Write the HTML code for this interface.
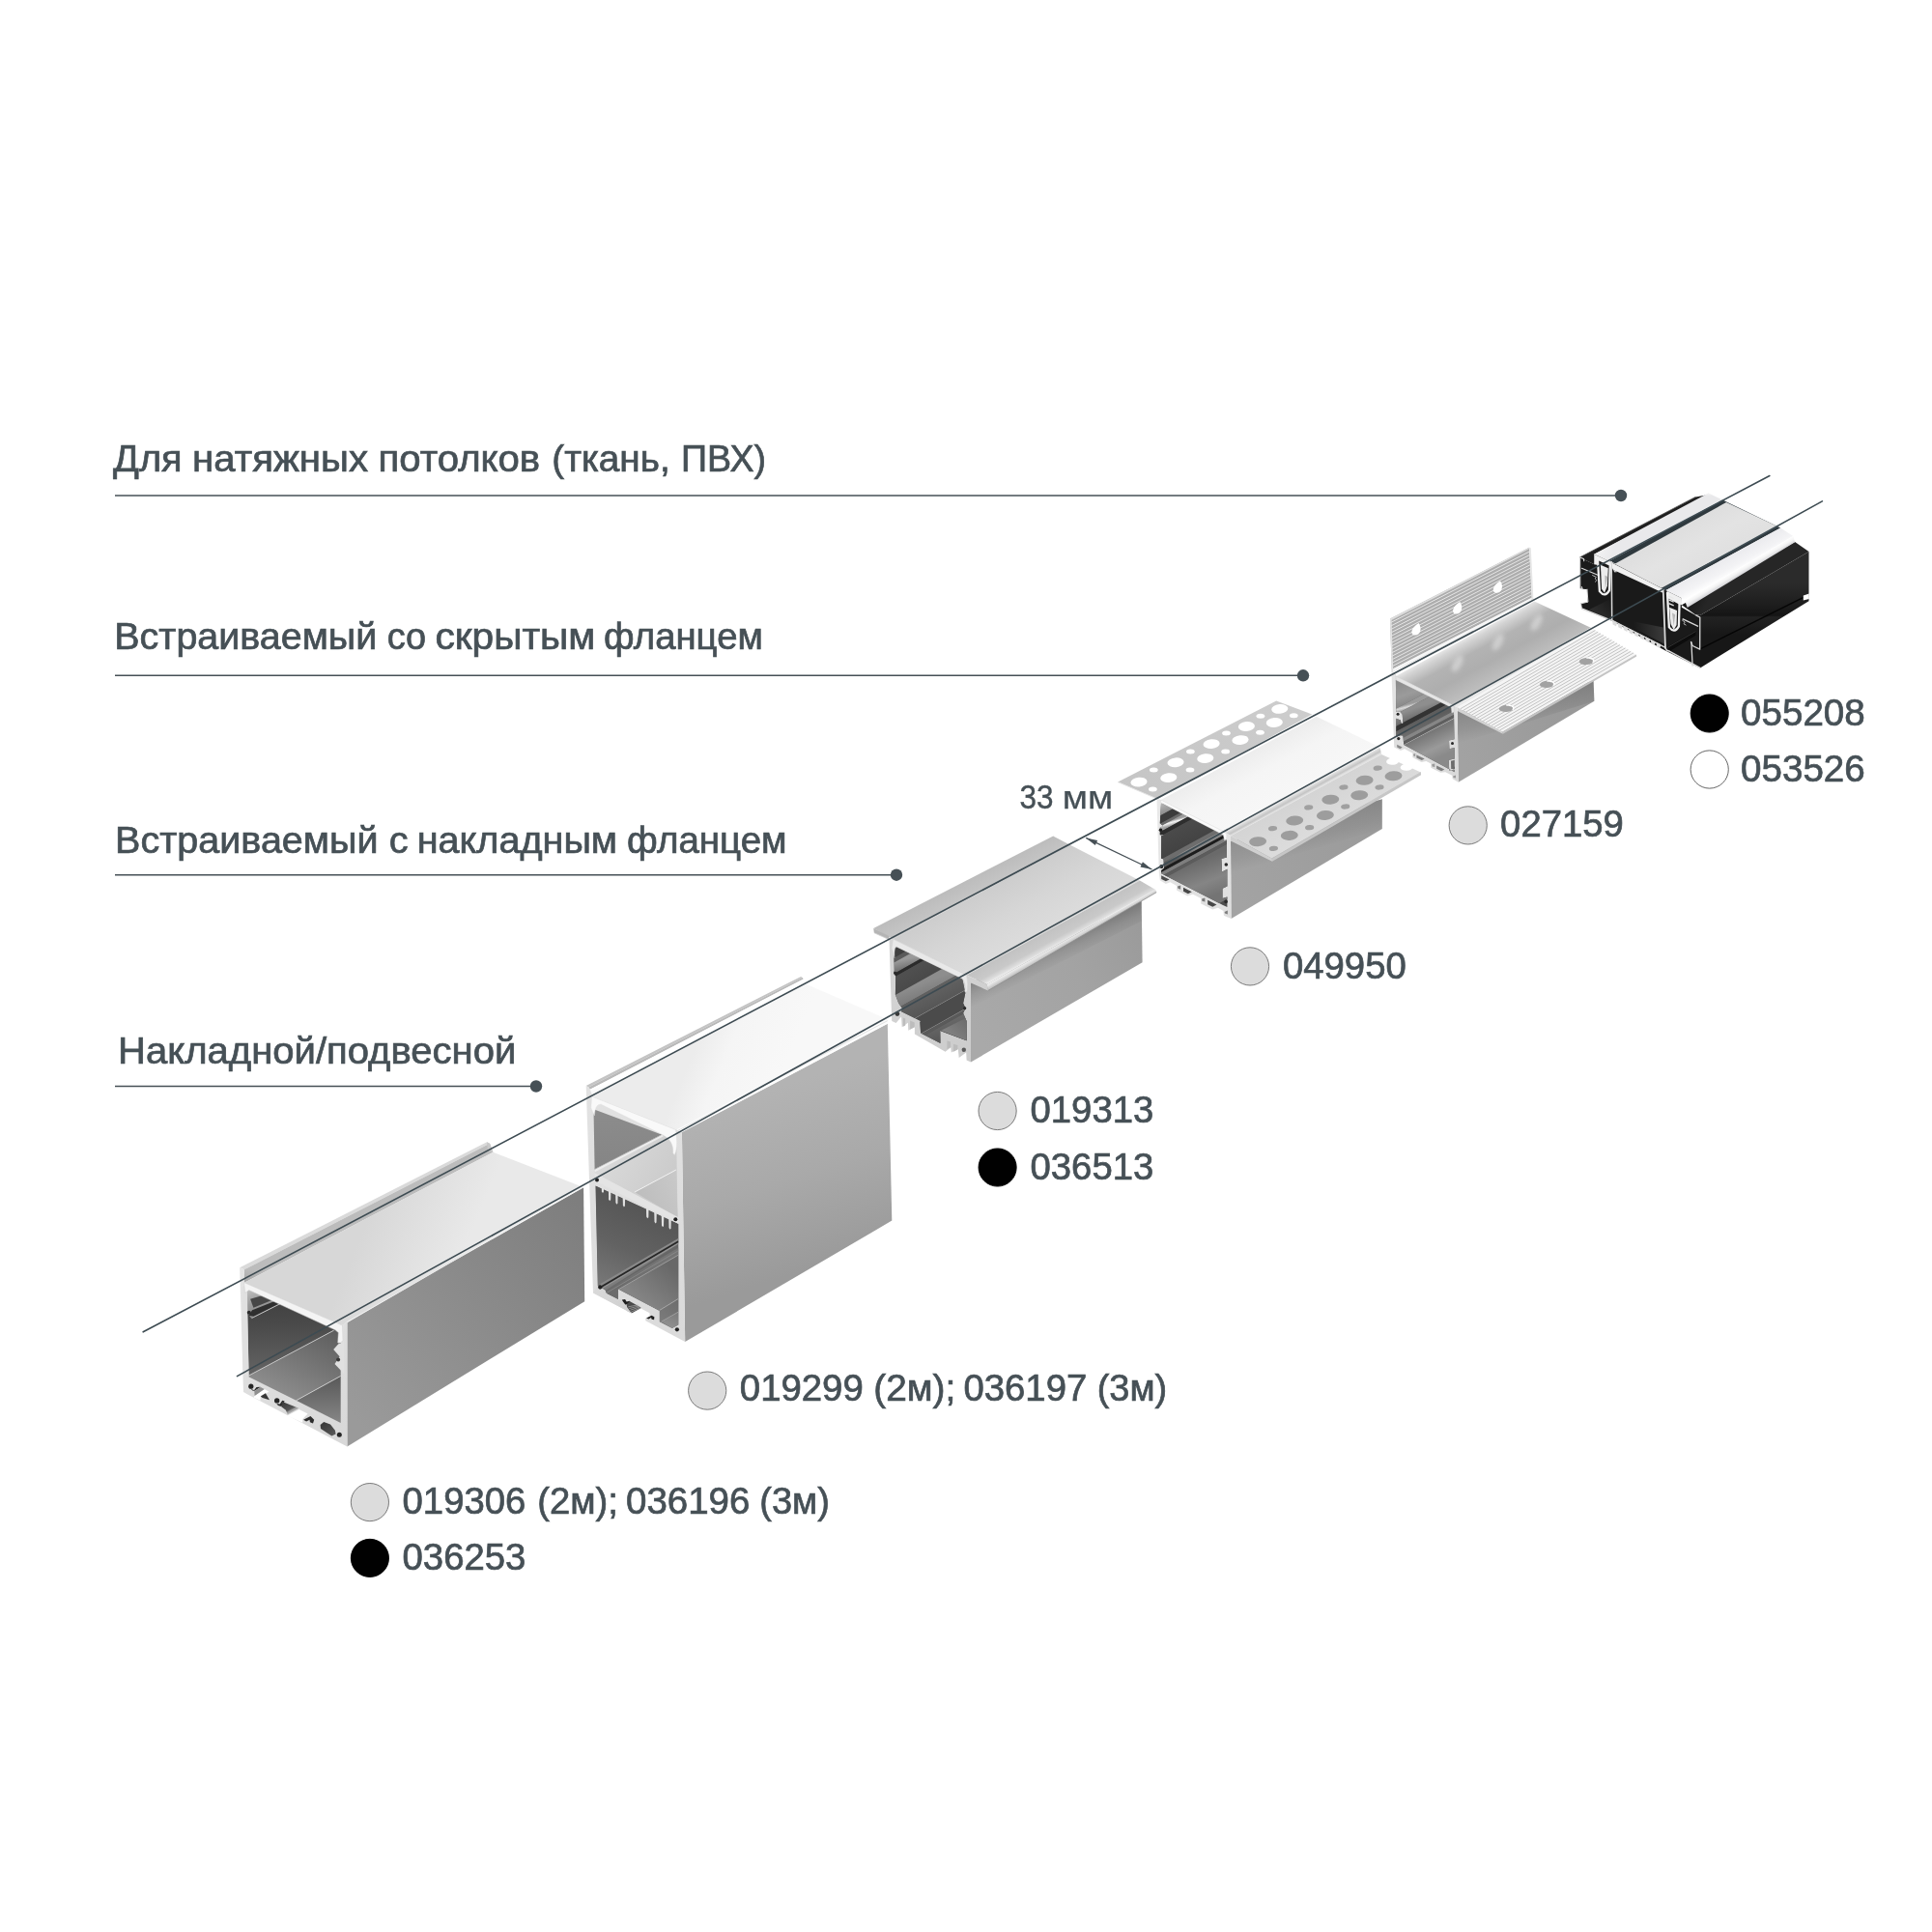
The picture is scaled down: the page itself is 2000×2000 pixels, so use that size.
<!DOCTYPE html>
<html><head><meta charset="utf-8"><title>Profiles</title>
<style>
html,body{margin:0;padding:0;background:#fff;}
body{width:2000px;height:2000px;overflow:hidden;font-family:"Liberation Sans",sans-serif;}
svg{display:block;font-family:"Liberation Sans",sans-serif;opacity:0.9999;will-change:transform;}
</style></head><body>
<svg width="2000" height="2000" viewBox="0 0 2000 2000">
<defs>
<filter id="blur2" x="-50%" y="-50%" width="200%" height="200%"><feGaussianBlur stdDeviation="2.2"/></filter>
<filter id="blur1" x="-50%" y="-50%" width="200%" height="200%"><feGaussianBlur stdDeviation="1"/></filter>
<linearGradient id="g1" gradientUnits="userSpaceOnUse" x1="1816.3" y1="604.0" x2="1816.3" y2="656.8"><stop offset="0" stop-color="#2b2b2b"/><stop offset="0.4" stop-color="#1e1e1e"/><stop offset="0.63" stop-color="#151515"/><stop offset="0.66" stop-color="#222222"/><stop offset="1" stop-color="#171717"/></linearGradient>
<linearGradient id="g2" gradientUnits="userSpaceOnUse" x1="1740.9" y1="626.2" x2="1760.0" y2="637.0"><stop offset="0" stop-color="#151515"/><stop offset="1" stop-color="#262626"/></linearGradient>
<linearGradient id="g3" gradientUnits="userSpaceOnUse" x1="1649.7" y1="574.1" x2="1666.5" y2="580.5"><stop offset="0" stop-color="#f4f4f4"/><stop offset="1" stop-color="#e9e9eb"/></linearGradient>
<linearGradient id="g4" gradientUnits="userSpaceOnUse" x1="1670.2" y1="584.5" x2="1692.0" y2="624.1"><stop offset="0" stop-color="#dedede"/><stop offset="0.5" stop-color="#e3e3e3"/><stop offset="1" stop-color="#e0e0e0"/></linearGradient>
<linearGradient id="g5" gradientUnits="userSpaceOnUse" x1="1724.2" y1="611.2" x2="1733.0" y2="627.5"><stop offset="0" stop-color="#ebebee"/><stop offset="0.6" stop-color="#f3f3f5"/><stop offset="1" stop-color="#ffffff"/></linearGradient>
<linearGradient id="g6" gradientUnits="userSpaceOnUse" x1="1744.1" y1="621.5" x2="1748.1" y2="628.2"><stop offset="0" stop-color="#ffffff"/><stop offset="0.45" stop-color="#f4f4f4"/><stop offset="1" stop-color="#d0d0d4"/></linearGradient>
<linearGradient id="g7" gradientUnits="userSpaceOnUse" x1="1668.1" y1="619.6" x2="1649.8" y2="634.5"><stop offset="0" stop-color="#1a1a1a"/><stop offset="1" stop-color="#2e2e2e"/></linearGradient>
<linearGradient id="g8" gradientUnits="userSpaceOnUse" x1="1721.9" y1="649.4" x2="1691.2" y2="651.1"><stop offset="0" stop-color="#3a3a3a"/><stop offset="1" stop-color="#1a1a1a"/></linearGradient>
<linearGradient id="g9" gradientUnits="userSpaceOnUse" x1="1509.2" y1="772.8" x2="1650.0" y2="715.3"><stop offset="0" stop-color="#a2a2a2"/><stop offset="1" stop-color="#979797"/></linearGradient>
<linearGradient id="g10" gradientUnits="userSpaceOnUse" x1="1508.7" y1="736.0" x2="1515.8" y2="768.4"><stop offset="0" stop-color="#000000" stop-opacity="0.16"/><stop offset="0.6" stop-color="#000000" stop-opacity="0.08"/><stop offset="1" stop-color="#000000" stop-opacity="0"/></linearGradient>
<linearGradient id="g11" gradientUnits="userSpaceOnUse" x1="1444.9" y1="699.9" x2="1471.3" y2="748.7"><stop offset="0" stop-color="#e6e6e6"/><stop offset="0.08" stop-color="#d4d4d4"/><stop offset="0.3" stop-color="#b3b3b3"/><stop offset="0.6" stop-color="#aeaeae"/><stop offset="1" stop-color="#c0c0c0"/></linearGradient>
<linearGradient id="g12" gradientUnits="userSpaceOnUse" x1="1440.6" y1="699.2" x2="1509.7" y2="809.7"><stop offset="0" stop-color="#e4e4e4"/><stop offset="1" stop-color="#d9d9d9"/></linearGradient>
<clipPath id="c13"><polygon points="1444.9,704.0 1502.0,732.0 1505.0,737.1 1505.5,765.3 1500.0,766.5 1500.4,775.2 1505.8,774.0 1505.8,785.6 1499.7,786.8 1500.2,797.6 1505.8,796.8 1505.8,799.2 1453.2,771.1 1452.4,761.6 1449.7,761.2 1445.3,762.8 1445.3,743.8 1449.9,745.4 1450.5,748.7 1452.4,749.1 1451.7,739.6 1449.5,737.1 1445.3,737.1"/></clipPath>
<linearGradient id="g14" gradientUnits="userSpaceOnUse" x1="1446.6" y1="706.5" x2="1454.8" y2="729.7"><stop offset="0" stop-color="#8c8c8c"/><stop offset="0.6" stop-color="#9b9b9b"/><stop offset="1" stop-color="#8a8a8a"/></linearGradient>
<linearGradient id="g15" gradientUnits="userSpaceOnUse" x1="1454.8" y1="729.7" x2="1456.1" y2="734.7"><stop offset="0" stop-color="#9a9a9a"/><stop offset="0.5" stop-color="#dadada"/><stop offset="1" stop-color="#a4a4a4"/></linearGradient>
<linearGradient id="g16" gradientUnits="userSpaceOnUse" x1="1454.8" y1="736.3" x2="1458.2" y2="746.2"><stop offset="0" stop-color="#8e8e8e"/><stop offset="1" stop-color="#6c6c6c"/></linearGradient>
<linearGradient id="g17" gradientUnits="userSpaceOnUse" x1="1463.1" y1="747.9" x2="1466.4" y2="757.9"><stop offset="0" stop-color="#5d5d5d"/><stop offset="1" stop-color="#6c6c6c"/></linearGradient>
<linearGradient id="g18" gradientUnits="userSpaceOnUse" x1="1471.4" y1="762.8" x2="1483.0" y2="787.7"><stop offset="0" stop-color="#787878"/><stop offset="0.6" stop-color="#9a9a9a"/><stop offset="1" stop-color="#8a8a8a"/></linearGradient>
<linearGradient id="g19" gradientUnits="userSpaceOnUse" x1="1274.2" y1="910.8" x2="1430.8" y2="842.6"><stop offset="0" stop-color="#a3a3a3"/><stop offset="1" stop-color="#9a9a9a"/></linearGradient>
<linearGradient id="g20" gradientUnits="userSpaceOnUse" x1="1274.0" y1="870.4" x2="1282.7" y2="902.0"><stop offset="0" stop-color="#000000" stop-opacity="0.12"/><stop offset="0.6" stop-color="#000000" stop-opacity="0.06"/><stop offset="1" stop-color="#000000" stop-opacity="0"/></linearGradient>
<linearGradient id="g21" gradientUnits="userSpaceOnUse" x1="1157.2" y1="809.6" x2="1358.3" y2="739.5"><stop offset="0" stop-color="#c5c5c5"/><stop offset="1" stop-color="#cdcdcd"/></linearGradient>
<linearGradient id="g22" gradientUnits="userSpaceOnUse" x1="1201.7" y1="828.0" x2="1230.0" y2="880.8"><stop offset="0" stop-color="#ededed"/><stop offset="0.4" stop-color="#f5f5f5"/><stop offset="1" stop-color="#f7f7f7"/></linearGradient>
<linearGradient id="g23" gradientUnits="userSpaceOnUse" x1="1266.9" y1="861.0" x2="1270.3" y2="867.2"><stop offset="0" stop-color="#f4f4f4"/><stop offset="0.35" stop-color="#d9d9d9"/><stop offset="0.7" stop-color="#c4c4c4"/><stop offset="1" stop-color="#e2e2e2"/></linearGradient>
<linearGradient id="g24" gradientUnits="userSpaceOnUse" x1="1274.0" y1="865.2" x2="1293.5" y2="901.3"><stop offset="0" stop-color="#d4d4d4"/><stop offset="1" stop-color="#dcdcdc"/></linearGradient>
<linearGradient id="g25" gradientUnits="userSpaceOnUse" x1="1197.5" y1="827.0" x2="1274.5" y2="951.1"><stop offset="0" stop-color="#e9e9e9"/><stop offset="1" stop-color="#dedede"/></linearGradient>
<clipPath id="c26"><polygon points="1202.0,831.2 1266.5,864.3 1270.0,870.8 1270.0,887.6 1264.4,889.0 1265.1,902.5 1270.4,899.7 1270.4,917.4 1265.5,919.7 1265.5,930.0 1270.4,928.6 1270.4,939.0 1266.0,937.1 1202.2,904.2 1202.2,901.1 1205.0,898.8 1204.5,889.4 1202.0,888.5 1202.2,865.2 1205.9,864.3 1205.5,871.7 1204.5,864.3 1200.8,864.3 1200.8,856.8 1204.0,855.0 1200.8,852.2"/></clipPath>
<linearGradient id="g27" gradientUnits="userSpaceOnUse" x1="1205.9" y1="830.8" x2="1209.6" y2="841.9"><stop offset="0" stop-color="#b4b4b4"/><stop offset="1" stop-color="#8a8a8a"/></linearGradient>
<linearGradient id="g28" gradientUnits="userSpaceOnUse" x1="1215.2" y1="848.5" x2="1216.6" y2="853.6"><stop offset="0" stop-color="#9c9c9c"/><stop offset="0.4" stop-color="#f5f5f5"/><stop offset="1" stop-color="#a0a0a0"/></linearGradient>
<linearGradient id="g29" gradientUnits="userSpaceOnUse" x1="1215.2" y1="859.6" x2="1224.5" y2="880.1"><stop offset="0" stop-color="#4a4a4a"/><stop offset="1" stop-color="#424242"/></linearGradient>
<linearGradient id="g30" gradientUnits="userSpaceOnUse" x1="1224.5" y1="882.0" x2="1225.9" y2="887.6"><stop offset="0" stop-color="#8a8a8a"/><stop offset="1" stop-color="#5a5a5a"/></linearGradient>
<linearGradient id="g31" gradientUnits="userSpaceOnUse" x1="1233.8" y1="893.2" x2="1247.8" y2="930.4"><stop offset="0" stop-color="#6a6a6a"/><stop offset="0.6" stop-color="#858585"/><stop offset="1" stop-color="#747474"/></linearGradient>
<linearGradient id="g32" gradientUnits="userSpaceOnUse" x1="1005.0" y1="1058.4" x2="1182.1" y2="964.5"><stop offset="0" stop-color="#a9a9a9"/><stop offset="0.6" stop-color="#a3a3a3"/><stop offset="1" stop-color="#9b9b9b"/></linearGradient>
<linearGradient id="g33" gradientUnits="userSpaceOnUse" x1="1005.0" y1="1017.4" x2="1015.1" y2="1038.6"><stop offset="0" stop-color="#000000" stop-opacity="0.22"/><stop offset="0.5" stop-color="#000000" stop-opacity="0.09"/><stop offset="1" stop-color="#000000" stop-opacity="0"/></linearGradient>
<linearGradient id="g34" gradientUnits="userSpaceOnUse" x1="904.2" y1="961.1" x2="913.0" y2="978.1"><stop offset="0" stop-color="#bcbcbc"/><stop offset="1" stop-color="#c6c6c6"/></linearGradient>
<linearGradient id="g35" gradientUnits="userSpaceOnUse" x1="924.5" y1="972.1" x2="956.9" y2="1032.9"><stop offset="0" stop-color="#cdcdcd"/><stop offset="0.5" stop-color="#d6d6d6"/><stop offset="1" stop-color="#dcdcdc"/></linearGradient>
<linearGradient id="g36" gradientUnits="userSpaceOnUse" x1="1000.6" y1="1009.5" x2="1009.5" y2="1025.7"><stop offset="0" stop-color="#c2c2c2"/><stop offset="0.6" stop-color="#c9c9c9"/><stop offset="0.85" stop-color="#dddddd"/><stop offset="1" stop-color="#f2f2f2"/></linearGradient>
<linearGradient id="g37" gradientUnits="userSpaceOnUse" x1="1021.7" y1="1019.0" x2="1024.8" y2="1024.4"><stop offset="0" stop-color="#f4f4f4"/><stop offset="0.5" stop-color="#d8d8d8"/><stop offset="1" stop-color="#b8b8b8"/></linearGradient>
<linearGradient id="g38" gradientUnits="userSpaceOnUse" x1="920.5" y1="972.6" x2="1005.0" y2="1099.5"><stop offset="0" stop-color="#d6d6d6"/><stop offset="1" stop-color="#cccccc"/></linearGradient>
<clipPath id="c39"><polygon points="926.0,979.2 996.2,1013.2 999.3,1028.0 997.1,1038.6 999.5,1043.7 997.1,1048.7 1000.6,1057.0 1000.6,1077.3 972.4,1066.7 973.3,1067.6 973.5,1080.1 953.1,1069.5 952.4,1057.9 953.1,1057.0 932.8,1046.9 934.6,1044.7 930.2,1038.6 926.9,1029.8 927.2,1010.4 925.1,1006.9 925.8,1005.1 925.5,991.0"/></clipPath>
<linearGradient id="g40" gradientUnits="userSpaceOnUse" x1="930.2" y1="994.6" x2="932.8" y2="1005.1"><stop offset="0" stop-color="#9a9a9a"/><stop offset="1" stop-color="#6e6e6e"/></linearGradient>
<linearGradient id="g41" gradientUnits="userSpaceOnUse" x1="930.2" y1="1013.0" x2="940.8" y2="1029.8"><stop offset="0" stop-color="#4f4f4f"/><stop offset="1" stop-color="#474747"/></linearGradient>
<linearGradient id="g42" gradientUnits="userSpaceOnUse" x1="939.0" y1="1023.6" x2="944.3" y2="1037.7"><stop offset="0" stop-color="#8d8d8d"/><stop offset="1" stop-color="#7a7a7a"/></linearGradient>
<linearGradient id="g43" gradientUnits="userSpaceOnUse" x1="947.8" y1="1035.0" x2="956.6" y2="1053.5"><stop offset="0" stop-color="#606060"/><stop offset="1" stop-color="#535353"/></linearGradient>
<linearGradient id="g44" gradientUnits="userSpaceOnUse" x1="965.4" y1="1058.8" x2="970.7" y2="1077.3"><stop offset="0" stop-color="#6a6a6a"/><stop offset="1" stop-color="#585858"/></linearGradient>
<linearGradient id="g45" gradientUnits="userSpaceOnUse" x1="1000.6" y1="1053.5" x2="983.0" y2="1072.0"><stop offset="0" stop-color="#6a6a6a"/><stop offset="1" stop-color="#828282"/></linearGradient>
<linearGradient id="g46" gradientUnits="userSpaceOnUse" x1="780.4" y1="1132.8" x2="837.7" y2="1313.8"><stop offset="0" stop-color="#b3b3b3"/><stop offset="0.5" stop-color="#a9a9a9"/><stop offset="1" stop-color="#9a9a9a"/></linearGradient>
<linearGradient id="g47" gradientUnits="userSpaceOnUse" x1="610.9" y1="1127.7" x2="613.5" y2="1135.0"><stop offset="0" stop-color="#ffffff"/><stop offset="0.65" stop-color="#f6f6f6"/><stop offset="1" stop-color="#d8d8d8"/></linearGradient>
<linearGradient id="g48" gradientUnits="userSpaceOnUse" x1="723.1" y1="1076.5" x2="809.7" y2="1112.3"><stop offset="0" stop-color="#ececec"/><stop offset="0.35" stop-color="#f5f5f5"/><stop offset="1" stop-color="#f8f8f8"/></linearGradient>
<linearGradient id="g49" gradientUnits="userSpaceOnUse" x1="606.7" y1="1124.1" x2="709.2" y2="1389.0"><stop offset="0" stop-color="#e2e2e2"/><stop offset="1" stop-color="#dadada"/></linearGradient>
<linearGradient id="g50" gradientUnits="userSpaceOnUse" x1="614.5" y1="1148.3" x2="615.6" y2="1210.3"><stop offset="0" stop-color="#8c8c8c"/><stop offset="1" stop-color="#858585"/></linearGradient>
<linearGradient id="g51" gradientUnits="userSpaceOnUse" x1="615.6" y1="1210.3" x2="701.5" y2="1260.0"><stop offset="0" stop-color="#dadada"/><stop offset="0.5" stop-color="#d0d0d0"/><stop offset="1" stop-color="#c6c6c6"/></linearGradient>
<linearGradient id="g52" gradientUnits="userSpaceOnUse" x1="699.9" y1="1211.0" x2="656.9" y2="1234.1"><stop offset="0" stop-color="#c9c9c9"/><stop offset="1" stop-color="#bdbdbd"/></linearGradient>
<clipPath id="c53"><polygon points="616.5,1227.6 702.3,1267.1 702.3,1371.4 695.8,1375.0 682.8,1368.3 682.8,1356.4 681.8,1356.4 640.4,1334.7 639.9,1334.2 639.9,1345.2 627.7,1339.1 626.4,1335.7 618.8,1331.1"/></clipPath>
<linearGradient id="g54" gradientUnits="userSpaceOnUse" x1="659.4" y1="1247.4" x2="622.3" y2="1331.1"><stop offset="0" stop-color="#565656"/><stop offset="0.5" stop-color="#626262"/><stop offset="1" stop-color="#787878"/></linearGradient>
<linearGradient id="g55" gradientUnits="userSpaceOnUse" x1="662.1" y1="1305.2" x2="666.2" y2="1312.4"><stop offset="0" stop-color="#8c8c8c"/><stop offset="1" stop-color="#7a7a7a"/></linearGradient>
<linearGradient id="g56" gradientUnits="userSpaceOnUse" x1="627.7" y1="1339.1" x2="682.8" y2="1306.2"><stop offset="0" stop-color="#6a6a6a"/><stop offset="1" stop-color="#747474"/></linearGradient>
<linearGradient id="g57" gradientUnits="userSpaceOnUse" x1="693.2" y1="1310.3" x2="662.1" y2="1346.6"><stop offset="0" stop-color="#686868"/><stop offset="1" stop-color="#858585"/></linearGradient>
<linearGradient id="g58" gradientUnits="userSpaceOnUse" x1="702.5" y1="1344.3" x2="682.8" y2="1368.3"><stop offset="0" stop-color="#6c6c6c"/><stop offset="1" stop-color="#7c7c7c"/></linearGradient>
<linearGradient id="g59" gradientUnits="userSpaceOnUse" x1="702.5" y1="1358.2" x2="695.8" y2="1375.0"><stop offset="0" stop-color="#7a7a7a"/><stop offset="1" stop-color="#909090"/></linearGradient>
<linearGradient id="g60" gradientUnits="userSpaceOnUse" x1="614.0" y1="1338.5" x2="653.8" y2="1359.6"><stop offset="0" stop-color="#d9d9d9"/><stop offset="1" stop-color="#cfcfcf"/></linearGradient>
<linearGradient id="g61" gradientUnits="userSpaceOnUse" x1="359.4" y1="1458.6" x2="604.3" y2="1252.8"><stop offset="0" stop-color="#9a9a9a"/><stop offset="0.5" stop-color="#8c8c8c"/><stop offset="1" stop-color="#7e7e7e"/></linearGradient>
<linearGradient id="g62" gradientUnits="userSpaceOnUse" x1="252.7" y1="1314.3" x2="252.6" y2="1327.9"><stop offset="0" stop-color="#bcbcbc"/><stop offset="1" stop-color="#a6a6a6"/></linearGradient>
<linearGradient id="g63" gradientUnits="userSpaceOnUse" x1="381.5" y1="1260.3" x2="478.5" y2="1300.3"><stop offset="0" stop-color="#d7d7d7"/><stop offset="0.5" stop-color="#e0e0e0"/><stop offset="1" stop-color="#e9e9e9"/></linearGradient>
<linearGradient id="g64" gradientUnits="userSpaceOnUse" x1="248.1" y1="1312.3" x2="359.4" y2="1497.4"><stop offset="0" stop-color="#e4e4e4"/><stop offset="1" stop-color="#d8d8d8"/></linearGradient>
<linearGradient id="g65" gradientUnits="userSpaceOnUse" x1="255.4" y1="1330.7" x2="257.7" y2="1423.9"><stop offset="0" stop-color="#3b3b3b"/><stop offset="0.45" stop-color="#4a4a4a"/><stop offset="1" stop-color="#646464"/></linearGradient>
<linearGradient id="g66" gradientUnits="userSpaceOnUse" x1="345.4" y1="1377.3" x2="306.6" y2="1449.8"><stop offset="0" stop-color="#5e5e5e"/><stop offset="1" stop-color="#8b8b8b"/></linearGradient>
<linearGradient id="g67" gradientUnits="userSpaceOnUse" x1="352.7" y1="1424.4" x2="352.7" y2="1473.1"><stop offset="0" stop-color="#585858"/><stop offset="1" stop-color="#868686"/></linearGradient>
<linearGradient id="g68" gradientUnits="userSpaceOnUse" x1="255.9" y1="1334.3" x2="268.8" y2="1362.8"><stop offset="0" stop-color="#c2c2c2"/><stop offset="0.5" stop-color="#9c9c9c"/><stop offset="1" stop-color="#8a8a8a"/></linearGradient>
<linearGradient id="g69" gradientUnits="userSpaceOnUse" x1="294.7" y1="1452.2" x2="300.9" y2="1463.4"><stop offset="0" stop-color="#3d3d3d"/><stop offset="0.65" stop-color="#555555"/><stop offset="0.8" stop-color="#9d9d9d"/><stop offset="1" stop-color="#b5b5b5"/></linearGradient>
<linearGradient id="g70" gradientUnits="userSpaceOnUse" x1="335.1" y1="1472.1" x2="344.4" y2="1486.4"><stop offset="0" stop-color="#383838"/><stop offset="1" stop-color="#585858"/></linearGradient>
</defs>
<rect width="2000" height="2000" fill="#ffffff"/>
<polygon points="1760.0,637.0 1872.5,571.0 1872.5,622.3 1760.0,691.4" fill="url(#g1)" />
<line x1="1760.0" y1="671.8" x2="1872.5" y2="615.6" stroke="#050505" stroke-width="1.4" />
<polygon points="1872.8,614.5 1866.8,616.5 1866.8,621.5 1872.8,619.9" fill="#ffffff" />
<polygon points="1740.9,626.2 1858.1,560.9 1872.5,571.0 1760.0,637.0 1755.4,636.6" fill="url(#g2)" />
<polygon points="1635.3,577.0 1755.3,514.4 1768.9,512.0 1650.3,573.7 1650.3,584.2" fill="#1f1f1f" />
<line x1="1635.3" y1="577.0" x2="1755.3" y2="514.4" stroke="#4a4a4a" stroke-width="0.8" />
<polygon points="1649.7,574.1 1768.5,510.5 1783.2,517.5 1666.5,580.5" fill="url(#g3)" />
<path d="M1764.6,512.5 Q1768.5,510.0 1772.4,512.2" fill="#f4f4f4" />
<polygon points="1666.5,580.5 1783.2,517.5 1843.2,546.6 1724.2,611.2" fill="#2f393e" />
<polygon points="1670.2,584.5 1787.0,520.1 1840.1,544.9 1719.9,608.8" fill="url(#g4)" />
<polygon points="1724.2,611.2 1843.2,546.6 1856.2,555.0 1744.1,621.5" fill="url(#g5)" />
<polygon points="1744.1,621.5 1856.2,555.0 1858.1,561.2 1746.7,628.9" fill="url(#g6)" />
<polygon points="1635.3,577.0 1650.3,584.2 1650.3,573.7 1668.1,582.0 1721.5,609.7 1725.6,611.8 1740.9,619.2 1740.9,628.7 1755.4,637.0 1760.0,637.0 1760.0,691.4 1724.0,673.6 1720.2,671.4 1670.1,643.6 1668.1,642.4 1637.4,630.0 1636.6,624.6 1643.6,623.4 1642.8,610.1 1637.4,609.7 1635.6,608.9" fill="#1a1a1a" />
<polygon points="1644.9,631.2 1668.1,619.6 1668.1,642.0" fill="url(#g7)" />
<polygon points="1671.4,639.5 1721.9,649.4 1723.1,666.8" fill="url(#g8)" />
<polygon points="1725.6,670.1 1755.4,652.8 1755.4,657.7 1729.3,673.5" fill="#0c0c0c" />
<line x1="1725.6" y1="670.8" x2="1755.4" y2="653.6" stroke="#3c3c3c" stroke-width="0.8" />
<polygon points="1650.3,573.7 1668.1,582.0 1668.1,586.5 1654.0,579.9 1653.2,584.8 1650.3,584.2" fill="#f1f1f1" />
<polygon points="1725.6,611.8 1740.9,619.2 1741.1,626.2 1738.0,625.4 1726.9,619.6" fill="#efefef" />
<polygon points="1668.5,582.4 1721.5,609.7 1721.5,613.8 1674.7,591.9 1670.1,590.2 1668.5,587.3" fill="#f0f0f0" />
<polygon points="1670.1,590.2 1674.7,591.9 1671.4,592.5" fill="#d0d0d0" />
<polyline points="1639.7,580.7 1639.5,578.6 1635.6,577.1 1635.8,608.9 1638.2,609.9 1637.4,607.6" fill="none" stroke="#d9d9d9" stroke-width="1.1" stroke-linejoin="round" stroke-linecap="round"/>
<polyline points="1637.4,588.2 1654.0,595.2" fill="none" stroke="#d9d9d9" stroke-width="1.1" stroke-linejoin="round" stroke-linecap="round"/>
<polyline points="1637.4,630.0 1636.6,624.8 1643.9,623.1 1643.0,610.1" fill="none" stroke="#d9d9d9" stroke-width="1.0" stroke-linejoin="round" stroke-linecap="round"/>
<polyline points="1637.4,630.0 1668.1,642.1" fill="none" stroke="#d9d9d9" stroke-width="1.4" stroke-linejoin="round" stroke-linecap="round"/>
<polyline points="1648.6,595.6 1652.3,597.3 1651.3,598.9 1652.7,600.6 1651.7,602.2" fill="none" stroke="#d9d9d9" stroke-width="0.8" stroke-linejoin="round" stroke-linecap="round"/>
<polyline points="1668.2,581.7 1668.7,642.0" fill="none" stroke="#d9d9d9" stroke-width="1.5" stroke-linejoin="round" stroke-linecap="round"/>
<polyline points="1721.7,609.9 1724.0,670.6" fill="none" stroke="#d9d9d9" stroke-width="1.8" stroke-linejoin="round" stroke-linecap="round"/>
<polygon points="1669.2,642.0 1674.0,644.5 1673.0,648.2 1669.6,646.4" fill="#dcdcdc" />
<polygon points="1674.9,644.9 1679.7,647.4 1678.7,651.1 1675.3,649.3" fill="#dcdcdc" />
<polygon points="1680.5,647.7 1685.3,650.2 1684.3,653.9 1680.9,652.1" fill="#dcdcdc" />
<polygon points="1686.2,650.6 1691.0,653.1 1690.0,656.8 1686.6,655.0" fill="#dcdcdc" />
<polygon points="1691.9,653.4 1696.7,655.9 1695.7,659.6 1692.3,657.8" fill="#dcdcdc" />
<polygon points="1697.6,656.2 1702.4,658.7 1701.4,662.4 1698.0,660.6" fill="#dcdcdc" />
<polygon points="1703.3,659.1 1708.1,661.6 1707.1,665.3 1703.7,663.5" fill="#dcdcdc" />
<polygon points="1708.9,661.9 1713.7,664.4 1712.7,668.1 1709.3,666.3" fill="#dcdcdc" />
<polygon points="1714.6,664.8 1719.4,667.3 1718.4,671.0 1715.0,669.2" fill="#dcdcdc" />
<polyline points="1668.7,642.0 1723.5,670.1" fill="none" stroke="#d9d9d9" stroke-width="1.3" stroke-linejoin="round" stroke-linecap="round"/>
<polyline points="1724.0,670.8 1725.6,673.3 1728.5,674.3 1760.0,691.3" fill="none" stroke="#d9d9d9" stroke-width="1.5" stroke-linejoin="round" stroke-linecap="round"/>
<polyline points="1755.8,637.0 1759.8,639.1 1759.7,672.2 1752.1,668.5 1750.5,664.5" fill="none" stroke="#d9d9d9" stroke-width="1.3" stroke-linejoin="round" stroke-linecap="round"/>
<polyline points="1742.2,640.8 1757.5,648.2" fill="none" stroke="#d9d9d9" stroke-width="1.3" stroke-linejoin="round" stroke-linecap="round"/>
<polyline points="1750.9,664.8 1752.1,689.2" fill="none" stroke="#d9d9d9" stroke-width="1.3" stroke-linejoin="round" stroke-linecap="round"/>
<polyline points="1741.4,642.0 1744.2,644.1 1743.0,645.7 1745.1,647.0" fill="none" stroke="#d9d9d9" stroke-width="0.8" stroke-linejoin="round" stroke-linecap="round"/>
<path d="M1654.0,579.5 L1655.9,612.1 Q1661.4,619.1 1666.0,611.1 L1666.8,584.8" fill="none" stroke="#f2f2f2" stroke-width="2.3" stroke-linecap="round"/>
<path d="M1726.0,613.8 L1727.9,649.4 Q1733.5,656.4 1737.9,648.4 L1738.6,622.9" fill="none" stroke="#f2f2f2" stroke-width="2.3" stroke-linecap="round"/>
<polygon points="1656.9,584.8 1664.8,588.2 1663.9,606.4 1661.0,613.8 1658.1,609.7" fill="#ececec" />
<polygon points="1728.1,628.7 1736.0,632.0 1735.6,647.0 1732.7,651.9 1729.5,646.1" fill="#ececec" />
<polygon points="1661.4,595.6 1664.1,596.9 1661.8,609.7" fill="#b5b5b5" />
<polygon points="1731.0,634.5 1734.2,636.2 1732.7,647.8" fill="#b8b8b8" />
<line x1="1727.5" y1="617.1" x2="1732.7" y2="619.5" stroke="#e8e8e8" stroke-width="1.2" />
<line x1="1727.5" y1="620.9" x2="1732.7" y2="623.2" stroke="#e8e8e8" stroke-width="1.2" />
<line x1="1727.5" y1="624.6" x2="1732.7" y2="626.9" stroke="#e8e8e8" stroke-width="1.2" />
<polygon points="1508.7,736.0 1649.6,704.8 1650.4,725.8 1509.7,809.7" fill="url(#g9)" />
<polygon points="1508.7,736.0 1649.6,704.8 1650.4,725.8 1508.7,770.0" fill="url(#g10)" />
<polygon points="1440.8,696.1 1439.0,640.5 1583.0,566.7 1585.9,621.8" fill="#adadad" />
<line x1="1439.1" y1="644.8" x2="1583.2" y2="571.0" stroke="#f4f4f4" stroke-width="0.8" />
<line x1="1439.2" y1="648.3" x2="1583.4" y2="574.5" stroke="#f4f4f4" stroke-width="0.8" />
<line x1="1439.3" y1="651.8" x2="1583.6" y2="577.9" stroke="#f4f4f4" stroke-width="0.8" />
<line x1="1439.4" y1="655.2" x2="1583.7" y2="581.4" stroke="#f4f4f4" stroke-width="0.8" />
<line x1="1439.5" y1="658.7" x2="1583.9" y2="584.8" stroke="#f4f4f4" stroke-width="0.8" />
<line x1="1439.7" y1="662.2" x2="1584.1" y2="588.3" stroke="#f4f4f4" stroke-width="0.8" />
<line x1="1439.8" y1="665.7" x2="1584.3" y2="591.7" stroke="#f4f4f4" stroke-width="0.8" />
<line x1="1439.9" y1="669.1" x2="1584.5" y2="595.1" stroke="#f4f4f4" stroke-width="0.8" />
<line x1="1440.0" y1="672.6" x2="1584.6" y2="598.6" stroke="#f4f4f4" stroke-width="0.8" />
<line x1="1440.1" y1="676.1" x2="1584.8" y2="602.0" stroke="#f4f4f4" stroke-width="0.8" />
<line x1="1440.2" y1="679.6" x2="1585.0" y2="605.5" stroke="#f4f4f4" stroke-width="0.8" />
<line x1="1440.3" y1="683.1" x2="1585.2" y2="608.9" stroke="#f4f4f4" stroke-width="0.8" />
<line x1="1440.4" y1="686.5" x2="1585.4" y2="612.3" stroke="#f4f4f4" stroke-width="0.8" />
<line x1="1440.6" y1="690.0" x2="1585.6" y2="615.8" stroke="#f4f4f4" stroke-width="0.8" />
<line x1="1440.7" y1="693.5" x2="1585.7" y2="619.2" stroke="#f4f4f4" stroke-width="0.8" />
<polygon points="1440.7,693.0 1585.7,618.8 1585.9,621.8 1440.8,696.1" fill="#f6f6f6" />
<polygon points="1439.0,640.5 1583.0,566.7 1584.6,567.3 1440.4,642.0" fill="#dedede" />
<polygon points="1583.0,566.7 1584.8,567.5 1587.5,622.6 1585.9,621.8" fill="#e6e6e6" />
<polygon points="1439.0,640.5 1440.5,641.1 1442.3,696.7 1440.8,696.1" fill="#e2e2e2" />
<path d="M1468.6,644.9 C1472.8,650.9 1469.8,657.9 1464.4,657.5 C1459.2,656.9 1460.6,649.9 1468.6,644.9 Z" fill="#ffffff" />
<path d="M1511.3,623.0 C1515.5,629.0 1512.5,636.0 1507.1,635.6 C1501.9,635.0 1503.3,628.0 1511.3,623.0 Z" fill="#ffffff" />
<path d="M1553.0,601.2 C1557.2,607.2 1554.2,614.2 1548.8,613.8 C1543.6,613.2 1545.0,606.2 1553.0,601.2 Z" fill="#ffffff" />
<polygon points="1444.9,699.9 1588.4,622.4 1646.7,649.7 1505.0,730.5" fill="url(#g11)" />
<ellipse cx="1508.7" cy="687.0" rx="4.2" ry="9.5" fill="#e6e6e6" transform="rotate(30.0 1508.7 687.0)" opacity="0.55" filter="url(#blur2)"/>
<ellipse cx="1550.7" cy="664.9" rx="4.2" ry="9.5" fill="#e6e6e6" transform="rotate(30.0 1550.7 664.9)" opacity="0.55" filter="url(#blur2)"/>
<ellipse cx="1590.6" cy="644.6" rx="4.2" ry="9.5" fill="#e6e6e6" transform="rotate(30.0 1590.6 644.6)" opacity="0.55" filter="url(#blur2)"/>
<polygon points="1505.0,730.5 1646.7,649.7 1648.5,650.8 1508.7,732.3" fill="#e9e9e9" />
<polygon points="1508.7,732.3 1648.5,650.8 1693.8,677.6 1555.2,757.7" fill="#f5f5f5" />
<line x1="1511.6" y1="733.9" x2="1651.4" y2="652.5" stroke="#c3c3c3" stroke-width="1.0" />
<line x1="1514.5" y1="735.5" x2="1654.2" y2="654.2" stroke="#c3c3c3" stroke-width="1.0" />
<line x1="1517.4" y1="737.1" x2="1657.0" y2="655.8" stroke="#c3c3c3" stroke-width="1.0" />
<line x1="1520.3" y1="738.7" x2="1659.9" y2="657.5" stroke="#c3c3c3" stroke-width="1.0" />
<line x1="1523.2" y1="740.3" x2="1662.7" y2="659.2" stroke="#c3c3c3" stroke-width="1.0" />
<line x1="1526.1" y1="741.8" x2="1665.5" y2="660.9" stroke="#c3c3c3" stroke-width="1.0" />
<line x1="1529.0" y1="743.4" x2="1668.4" y2="662.5" stroke="#c3c3c3" stroke-width="1.0" />
<line x1="1531.9" y1="745.0" x2="1671.2" y2="664.2" stroke="#c3c3c3" stroke-width="1.0" />
<line x1="1534.9" y1="746.6" x2="1674.0" y2="665.9" stroke="#c3c3c3" stroke-width="1.0" />
<line x1="1537.8" y1="748.2" x2="1676.9" y2="667.6" stroke="#c3c3c3" stroke-width="1.0" />
<line x1="1540.7" y1="749.8" x2="1679.7" y2="669.2" stroke="#c3c3c3" stroke-width="1.0" />
<line x1="1543.6" y1="751.3" x2="1682.5" y2="670.9" stroke="#c3c3c3" stroke-width="1.0" />
<line x1="1546.5" y1="752.9" x2="1685.3" y2="672.6" stroke="#c3c3c3" stroke-width="1.0" />
<line x1="1549.4" y1="754.5" x2="1688.2" y2="674.3" stroke="#c3c3c3" stroke-width="1.0" />
<line x1="1552.3" y1="756.1" x2="1691.0" y2="675.9" stroke="#c3c3c3" stroke-width="1.0" />
<polygon points="1508.7,732.3 1555.2,757.7 1555.9,759.7 1508.7,736.0" fill="#d4d4d4" />
<polygon points="1555.2,757.7 1693.8,677.6 1694.2,679.6 1555.9,759.7" fill="#c4c4c4" />
<ellipse cx="1559.4" cy="733.4" rx="7.6" ry="3.6" fill="#a2a2a2" transform="rotate(-4.0 1559.4 733.4)" />
<polyline points="1559.8,730.0 1560.8,730.0 1561.8,730.1 1562.7,730.2 1563.6,730.4 1564.4,730.6 1565.1,730.9 1565.7,731.3 1566.2,731.7 1566.5,732.1 1566.7,732.5 1566.8,733.0 1566.7,733.4 1566.5,733.9 1566.2,734.4" fill="none" stroke="#fdfdfd" stroke-width="1.5" stroke-linecap="round" />
<ellipse cx="1601.5" cy="708.4" rx="7.6" ry="3.6" fill="#a2a2a2" transform="rotate(-4.0 1601.5 708.4)" />
<polyline points="1601.9,705.0 1602.9,705.0 1603.8,705.1 1604.8,705.2 1605.6,705.4 1606.4,705.6 1607.1,705.9 1607.7,706.3 1608.2,706.7 1608.5,707.1 1608.8,707.5 1608.8,708.0 1608.8,708.4 1608.6,708.9 1608.2,709.4" fill="none" stroke="#fdfdfd" stroke-width="1.5" stroke-linecap="round" />
<ellipse cx="1642.4" cy="684.5" rx="7.6" ry="3.6" fill="#a2a2a2" transform="rotate(-4.0 1642.4 684.5)" />
<polyline points="1642.8,681.1 1643.8,681.1 1644.8,681.1 1645.7,681.3 1646.6,681.5 1647.4,681.7 1648.1,682.0 1648.7,682.3 1649.1,682.7 1649.5,683.2 1649.7,683.6 1649.8,684.1 1649.7,684.5 1649.5,685.0 1649.2,685.5" fill="none" stroke="#fdfdfd" stroke-width="1.5" stroke-linecap="round" />
<polygon points="1440.6,699.2 1444.9,699.9 1505.0,730.5 1508.7,732.3 1508.7,736.0 1509.7,809.7 1503.7,806.3 1503.3,802.7 1496.2,799.2 1491.3,799.7 1481.3,794.7 1481.3,790.6 1476.4,788.1 1471.4,788.9 1462.3,783.9 1462.3,779.8 1454.0,775.2 1449.9,777.1 1443.2,773.6" fill="url(#g12)" />
<polygon points="1440.8,696.1 1440.6,699.2 1444.9,699.9 1445.3,698.1" fill="#e0e0e0" />
<polygon points="1444.9,704.0 1502.0,732.0 1505.0,737.1 1505.5,765.3 1500.0,766.5 1500.4,775.2 1505.8,774.0 1505.8,785.6 1499.7,786.8 1500.2,797.6 1505.8,796.8 1505.8,799.2 1453.2,771.1 1452.4,761.6 1449.7,761.2 1445.3,762.8 1445.3,743.8 1449.9,745.4 1450.5,748.7 1452.4,749.1 1451.7,739.6 1449.5,737.1 1445.3,737.1" fill="#5a5a5a" />
<polygon points="1438.3,683.5 1512.8,644.0 1512.8,697.8 1438.3,737.3" fill="url(#g14)" clip-path="url(#c13)"/>
<polygon points="1438.3,737.3 1512.8,697.8 1512.8,703.6 1438.3,743.1" fill="url(#g15)" clip-path="url(#c13)"/>
<polygon points="1438.3,743.1 1512.8,703.6 1512.8,716.1 1438.3,755.6" fill="url(#g16)" clip-path="url(#c13)"/>
<polygon points="1438.3,755.6 1512.8,716.1 1512.8,721.4 1438.3,760.9" fill="#333333" clip-path="url(#c13)"/>
<polygon points="1438.3,760.9 1512.8,721.4 1512.8,731.8 1438.3,771.3" fill="url(#g17)" clip-path="url(#c13)"/>
<polygon points="1438.3,771.3 1512.8,731.8 1512.8,735.9 1438.3,775.4" fill="#868686" clip-path="url(#c13)"/>
<polygon points="1438.3,775.4 1512.8,735.9 1512.8,739.2 1438.3,778.8" fill="#5f5f5f" clip-path="url(#c13)"/>
<polygon points="1438.3,778.8 1512.8,739.2 1512.8,740.1 1438.3,779.6" fill="#bdbdbd" clip-path="url(#c13)"/>
<polygon points="1438.3,779.6 1512.8,740.1 1512.8,801.4 1438.3,840.9" fill="url(#g18)" clip-path="url(#c13)"/>
<circle cx="1447.1" cy="739.3" r="1.5" fill="#262626" />
<circle cx="1447.8" cy="764.6" r="1.6" fill="#262626" />
<circle cx="1503.5" cy="769.6" r="1.5" fill="#262626" />
<circle cx="1504.5" cy="794.7" r="1.5" fill="#262626" />
<polygon points="1502.0,787.7 1505.8,786.8 1505.8,795.9 1502.2,795.9" fill="#6c6c6c" />
<polygon points="1446.2,770.7 1451.7,773.4 1449.5,775.2 1446.2,773.6" fill="#8a8a8a" />
<polygon points="1466.4,781.5 1474.7,785.6 1471.8,787.0 1466.4,784.5" fill="#7e7e7e" />
<polygon points="1463.1,780.4 1465.2,780.0 1465.2,783.1 1463.3,782.7" fill="#9a9a9a" />
<polygon points="1487.1,792.5 1495.4,796.6 1492.1,798.3 1487.1,795.8" fill="#7e7e7e" />
<polygon points="1482.3,791.1 1485.3,790.6 1485.3,793.9 1482.5,793.5" fill="#9a9a9a" />
<polygon points="1504.1,803.6 1507.0,802.6 1507.0,805.5 1504.4,805.0" fill="#9a9a9a" />
<path d="M1444.9,699.9 L1505.0,730.5 L1505.4,737.1 L1502.9,738.0 L1502.2,732.2 L1445.1,704.0 Z" fill="#e6e6e6" stroke="#c4c4c4" stroke-width="0.4"/>
<polygon points="1274.0,870.4 1430.8,827.2 1430.8,858.0 1274.5,951.1" fill="url(#g19)" />
<polygon points="1274.0,870.4 1430.8,827.2 1430.8,858.0 1274.0,904.4" fill="url(#g20)" />
<polygon points="1157.2,809.6 1321.2,725.4 1358.3,739.5 1198.3,827.2" fill="url(#g21)" />
<line x1="1157.2" y1="809.6" x2="1198.3" y2="827.2" stroke="#e6e6e6" stroke-width="1.0" />
<ellipse cx="1179.0" cy="809.6" rx="8.6" ry="4.9" fill="#ffffff" transform="rotate(-5.4 1179.0 809.6)" />
<ellipse cx="1217.0" cy="789.3" rx="8.6" ry="4.9" fill="#ffffff" transform="rotate(-5.4 1217.0 789.3)" />
<ellipse cx="1254.1" cy="770.1" rx="8.6" ry="4.9" fill="#ffffff" transform="rotate(-5.4 1254.1 770.1)" />
<ellipse cx="1290.4" cy="752.0" rx="8.6" ry="4.9" fill="#ffffff" transform="rotate(-5.4 1290.4 752.0)" />
<ellipse cx="1324.8" cy="733.9" rx="8.6" ry="4.9" fill="#ffffff" transform="rotate(-5.4 1324.8 733.9)" />
<ellipse cx="1209.8" cy="805.1" rx="8.6" ry="4.9" fill="#ffffff" transform="rotate(-5.4 1209.8 805.1)" />
<ellipse cx="1247.8" cy="785.1" rx="8.6" ry="4.9" fill="#ffffff" transform="rotate(-5.4 1247.8 785.1)" />
<ellipse cx="1284.0" cy="766.1" rx="8.6" ry="4.9" fill="#ffffff" transform="rotate(-5.4 1284.0 766.1)" />
<ellipse cx="1319.3" cy="748.0" rx="8.6" ry="4.9" fill="#ffffff" transform="rotate(-5.4 1319.3 748.0)" />
<ellipse cx="1194.3" cy="796.9" rx="4.4" ry="2.5" fill="#ffffff" transform="rotate(0.0 1194.3 796.9)" />
<ellipse cx="1232.4" cy="777.9" rx="4.4" ry="2.5" fill="#ffffff" transform="rotate(0.0 1232.4 777.9)" />
<ellipse cx="1269.5" cy="758.9" rx="4.4" ry="2.5" fill="#ffffff" transform="rotate(0.0 1269.5 758.9)" />
<ellipse cx="1304.9" cy="741.3" rx="4.4" ry="2.5" fill="#ffffff" transform="rotate(0.0 1304.9 741.3)" />
<ellipse cx="1193.4" cy="816.9" rx="4.4" ry="2.5" fill="#ffffff" transform="rotate(0.0 1193.4 816.9)" />
<ellipse cx="1232.0" cy="796.9" rx="4.4" ry="2.5" fill="#ffffff" transform="rotate(0.0 1232.0 796.9)" />
<ellipse cx="1268.6" cy="777.9" rx="4.4" ry="2.5" fill="#ffffff" transform="rotate(0.0 1268.6 777.9)" />
<ellipse cx="1304.5" cy="758.3" rx="4.4" ry="2.5" fill="#ffffff" transform="rotate(0.0 1304.5 758.3)" />
<ellipse cx="1339.3" cy="740.8" rx="4.4" ry="2.5" fill="#ffffff" transform="rotate(0.0 1339.3 740.8)" />
<polygon points="1201.7,828.0 1362.8,741.7 1428.4,773.4 1266.9,861.0" fill="url(#g22)" />
<polygon points="1266.9,861.0 1428.4,773.4 1430.2,781.0 1274.0,865.2" fill="url(#g23)" />
<polygon points="1274.0,865.2 1430.2,781.0 1470.8,799.6 1316.8,888.7" fill="url(#g24)" />
<polygon points="1274.0,865.2 1316.8,888.7 1317.0,891.8 1274.0,870.4" fill="#cfcfcf" />
<line x1="1316.8" y1="888.7" x2="1470.8" y2="799.6" stroke="#bdbdbd" stroke-width="0.8" />
<polygon points="1316.8,888.7 1470.8,799.6 1471.1,802.2 1317.0,891.8" fill="#c6c6c6" />
<ellipse cx="1302.1" cy="871.2" rx="9.0" ry="5.0" fill="#9d9d9d" transform="rotate(-4.0 1302.1 871.2)" />
<ellipse cx="1334.8" cy="864.9" rx="9.0" ry="5.0" fill="#9d9d9d" transform="rotate(-4.0 1334.8 864.9)" />
<ellipse cx="1340.2" cy="849.5" rx="9.0" ry="5.0" fill="#9d9d9d" transform="rotate(-4.0 1340.2 849.5)" />
<ellipse cx="1371.9" cy="844.0" rx="9.0" ry="5.0" fill="#9d9d9d" transform="rotate(-4.0 1371.9 844.0)" />
<ellipse cx="1377.3" cy="827.7" rx="9.0" ry="5.0" fill="#9d9d9d" transform="rotate(-4.0 1377.3 827.7)" />
<ellipse cx="1407.2" cy="823.2" rx="9.0" ry="5.0" fill="#9d9d9d" transform="rotate(-4.0 1407.2 823.2)" />
<ellipse cx="1412.6" cy="807.8" rx="9.0" ry="5.0" fill="#9d9d9d" transform="rotate(-4.0 1412.6 807.8)" />
<ellipse cx="1442.5" cy="803.3" rx="9.0" ry="5.0" fill="#9d9d9d" transform="rotate(-4.0 1442.5 803.3)" />
<ellipse cx="1318.4" cy="878.4" rx="4.6" ry="2.6" fill="#a0a0a0" transform="rotate(-4.0 1318.4 878.4)" />
<ellipse cx="1317.5" cy="857.6" rx="4.6" ry="2.6" fill="#a0a0a0" transform="rotate(-4.0 1317.5 857.6)" />
<ellipse cx="1355.6" cy="856.7" rx="4.6" ry="2.6" fill="#a0a0a0" transform="rotate(-4.0 1355.6 856.7)" />
<ellipse cx="1354.7" cy="835.9" rx="4.6" ry="2.6" fill="#a0a0a0" transform="rotate(-4.0 1354.7 835.9)" />
<ellipse cx="1392.7" cy="835.0" rx="4.6" ry="2.6" fill="#a0a0a0" transform="rotate(-4.0 1392.7 835.0)" />
<ellipse cx="1390.9" cy="815.0" rx="4.6" ry="2.6" fill="#a0a0a0" transform="rotate(-4.0 1390.9 815.0)" />
<ellipse cx="1428.0" cy="815.0" rx="4.6" ry="2.6" fill="#a0a0a0" transform="rotate(-4.0 1428.0 815.0)" />
<ellipse cx="1426.2" cy="795.1" rx="4.6" ry="2.6" fill="#a0a0a0" transform="rotate(-4.0 1426.2 795.1)" />
<ellipse cx="1441.6" cy="788.2" rx="6.5" ry="3.6" fill="#ffffff" transform="rotate(-4.0 1441.6 788.2)" />
<ellipse cx="1456.1" cy="794.2" rx="6.5" ry="3.6" fill="#ffffff" transform="rotate(-4.0 1456.1 794.2)" />
<polygon points="1197.5,827.0 1201.7,828.0 1266.9,861.0 1274.0,865.2 1274.0,870.4 1274.5,951.1 1266.9,947.7 1266.5,943.0 1260.9,939.8 1255.3,941.6 1243.2,935.6 1243.2,930.0 1234.8,925.8 1229.2,927.6 1218.0,921.6 1218.0,916.9 1211.5,913.2 1206.8,915.1 1200.8,911.3 1199.8,903.4" fill="url(#g25)" />
<polygon points="1202.0,831.2 1266.5,864.3 1270.0,870.8 1270.0,887.6 1264.4,889.0 1265.1,902.5 1270.4,899.7 1270.4,917.4 1265.5,919.7 1265.5,930.0 1270.4,928.6 1270.4,939.0 1266.0,937.1 1202.2,904.2 1202.2,901.1 1205.0,898.8 1204.5,889.4 1202.0,888.5 1202.2,865.2 1205.9,864.3 1205.5,871.7 1204.5,864.3 1200.8,864.3 1200.8,856.8 1204.0,855.0 1200.8,852.2" fill="#4b4b4b" />
<polygon points="1196.6,821.7 1280.4,776.0 1280.4,801.1 1196.6,846.8" fill="url(#g27)" clip-path="url(#c26)"/>
<polygon points="1196.6,846.8 1280.4,801.1 1280.4,809.5 1196.6,855.2" fill="#3c3c3c" clip-path="url(#c26)"/>
<polygon points="1196.6,855.2 1280.4,809.5 1280.4,812.3 1196.6,858.0" fill="#6a6a6a" clip-path="url(#c26)"/>
<polygon points="1196.6,858.0 1280.4,812.3 1280.4,817.9 1196.6,863.6" fill="url(#g28)" clip-path="url(#c26)"/>
<polygon points="1196.6,863.6 1280.4,817.9 1280.4,822.6 1196.6,868.3" fill="#2e2e2e" clip-path="url(#c26)"/>
<polygon points="1196.6,868.3 1280.4,822.6 1280.4,846.8 1196.6,892.5" fill="url(#g29)" clip-path="url(#c26)"/>
<polygon points="1196.6,892.5 1280.4,846.8 1280.4,851.5 1196.6,897.1" fill="#6d6d6d" clip-path="url(#c26)"/>
<polygon points="1196.6,897.1 1280.4,851.5 1280.4,857.0 1196.6,902.7" fill="url(#g30)" clip-path="url(#c26)"/>
<polygon points="1196.6,902.7 1280.4,857.0 1280.4,860.3 1196.6,906.0" fill="#1c1c1c" clip-path="url(#c26)"/>
<polygon points="1196.6,906.0 1280.4,860.3 1280.4,864.5 1196.6,910.2" fill="#7e7e7e" clip-path="url(#c26)"/>
<polygon points="1196.6,910.2 1280.4,864.5 1280.4,868.2 1196.6,913.9" fill="#5c5c5c" clip-path="url(#c26)"/>
<polygon points="1196.6,913.9 1280.4,868.2 1280.4,925.0 1196.6,970.8" fill="url(#g31)" clip-path="url(#c26)"/>
<circle cx="1201.5" cy="859.2" r="1.8" fill="#1d1d1d" />
<circle cx="1202.4" cy="896.9" r="2.0" fill="#1d1d1d" />
<circle cx="1269.3" cy="895.0" r="1.8" fill="#2a2a2a" />
<circle cx="1269.1" cy="933.4" r="1.8" fill="#2a2a2a" />
<polygon points="1202.2,906.2 1210.6,910.4 1206.8,912.3 1202.2,909.9" fill="#4a4a4a" />
<polygon points="1219.0,917.6 1222.2,916.5 1222.2,920.7 1219.4,919.7" fill="#7b7b7b" />
<polygon points="1225.0,918.8 1233.8,923.2 1229.9,925.3 1225.0,922.8" fill="#474747" />
<polygon points="1244.1,930.4 1247.4,929.5 1247.4,933.4 1244.3,932.8" fill="#7b7b7b" />
<polygon points="1250.2,931.8 1259.5,936.5 1255.3,938.8 1250.2,936.2" fill="#474747" />
<polygon points="1267.6,944.0 1270.8,942.5 1270.8,946.5 1268.0,945.5" fill="#7b7b7b" />
<path d="M1201.7,828.0 L1267.2,861.0 L1269.7,863.4 Q1270.4,869.0 1267.6,870.1 L1266.3,864.3 L1204.5,832.1 L1201.7,831.2 Z" fill="#fafafa" stroke="#d5d5d5" stroke-width="0.4"/>
<polygon points="1005.0,1017.4 1181.7,932.8 1182.6,996.2 1005.0,1099.5" fill="url(#g32)" />
<polygon points="1005.0,1017.4 1181.7,932.8 1181.7,953.5 1005.0,1043.4" fill="url(#g33)" />
<polygon points="904.2,961.1 1090.2,865.4 1107.4,874.4 924.5,972.1" fill="url(#g34)" />
<polygon points="904.2,961.1 920.5,969.0 920.5,972.7 904.9,965.7" fill="#b4b4b4" />
<line x1="904.9" y1="965.7" x2="920.5" y2="972.7" stroke="#d2d2d2" stroke-width="0.8" />
<polygon points="924.5,972.1 1107.4,874.4 1179.9,911.6 1000.6,1009.5" fill="url(#g35)" />
<polygon points="1000.6,1009.5 1179.9,911.6 1196.2,921.0 1021.7,1019.0" fill="url(#g36)" />
<polygon points="1021.7,1019.0 1196.2,921.0 1197.2,923.7 1022.8,1025.5" fill="url(#g37)" />
<line x1="1022.8" y1="1025.5" x2="1197.2" y2="923.7" stroke="#8e8e8e" stroke-width="0.8" />
<polygon points="920.5,972.6 924.5,972.1 1000.6,1009.5 1021.7,1019.0 1022.8,1025.5 1005.0,1017.4 1005.0,1099.5 1000.6,1097.5 1000.2,1089.6 992.7,1094.9 991.8,1086.1 984.8,1089.6 984.3,1084.3 978.6,1088.7 946.9,1070.4 946.9,1063.2 940.3,1066.7 939.9,1058.8 933.7,1063.2 933.0,1052.6 927.6,1059.0 923.2,1057.0" fill="url(#g38)" />
<polygon points="926.0,979.2 996.2,1013.2 999.3,1028.0 997.1,1038.6 999.5,1043.7 997.1,1048.7 1000.6,1057.0 1000.6,1077.3 972.4,1066.7 973.3,1067.6 973.5,1080.1 953.1,1069.5 952.4,1057.9 953.1,1057.0 932.8,1046.9 934.6,1044.7 930.2,1038.6 926.9,1029.8 927.2,1010.4 925.1,1006.9 925.8,1005.1 925.5,991.0" fill="#4e4e4e" />
<polygon points="921.4,968.9 1009.4,919.6 1009.4,944.7 921.4,993.9" fill="#404040" clip-path="url(#c39)"/>
<polygon points="921.4,993.9 1009.4,944.7 1009.4,949.5 921.4,998.8" fill="#5a5a5a" clip-path="url(#c39)"/>
<polygon points="921.4,998.8 1009.4,949.5 1009.4,960.9 921.4,1010.2" fill="url(#g40)" clip-path="url(#c39)"/>
<polygon points="921.4,1010.2 1009.4,960.9 1009.4,964.6 921.4,1013.9" fill="#2b2b2b" clip-path="url(#c39)"/>
<polygon points="921.4,1013.9 1009.4,964.6 1009.4,983.8 921.4,1033.1" fill="url(#g41)" clip-path="url(#c39)"/>
<polygon points="921.4,1033.1 1009.4,983.8 1009.4,998.8 921.4,1048.1" fill="url(#g42)" clip-path="url(#c39)"/>
<polygon points="921.4,1048.1 1009.4,998.8 1009.4,1019.0 921.4,1068.3" fill="url(#g43)" clip-path="url(#c39)"/>
<polygon points="921.4,1068.3 1009.4,1019.0 1009.4,1019.9 921.4,1069.2" fill="#9c9c9c" clip-path="url(#c39)"/>
<polygon points="921.4,1069.2 1009.4,1019.9 1009.4,1038.4 921.4,1087.7" fill="#4b4b4b" clip-path="url(#c39)"/>
<polygon points="921.4,1087.7 1009.4,1038.4 1009.4,1039.3 921.4,1088.5" fill="#8c8c8c" clip-path="url(#c39)"/>
<polygon points="921.4,1088.5 1009.4,1039.3 1009.4,1042.8 921.4,1092.1" fill="#5a5a5a" clip-path="url(#c39)"/>
<polygon points="921.4,1092.1 1009.4,1042.8 1009.4,1078.0 921.4,1127.3" fill="url(#g44)" clip-path="url(#c39)"/>
<polygon points="974.2,1066.7 1000.6,1053.5 1000.6,1077.3" fill="url(#g45)" clip-path="url(#c39)"/>
<circle cx="926.7" cy="1007.3" r="1.6" fill="#2a2a2a" />
<circle cx="998.7" cy="1043.7" r="1.6" fill="#2a2a2a" />
<circle cx="928.9" cy="1049.6" r="2.4" fill="#3a3a3a" />
<circle cx="997.8" cy="1086.8" r="2.2" fill="#5a5a5a" />
<polygon points="934.8,1053.5 937.2,1054.4 937.2,1061.4 934.8,1062.8" fill="#bcbcbc" />
<polygon points="942.1,1056.6 946.7,1058.4 946.7,1063.2 942.1,1065.4" fill="#bcbcbc" />
<polygon points="980.4,1077.3 984.0,1078.6 984.0,1084.3 980.4,1086.1" fill="#bcbcbc" />
<polygon points="987.0,1080.8 991.4,1082.1 991.4,1086.5 987.0,1088.7" fill="#bcbcbc" />
<path d="M924.5,972.1 L1000.6,1009.5 Q1002.8,1019.2 1001.0,1026.7 L998.8,1026.7 Q1000.2,1017.4 996.2,1013.2 L928.4,980.3 Q925.4,979.6 926.0,991.9 L923.0,981.4 Z" fill="#e9e9e9" stroke="#c9c9c9" stroke-width="0.4"/>
<polygon points="705.9,1172.1 918.8,1059.8 923.3,1263.6 709.2,1389.0" fill="url(#g46)" />
<polygon points="606.7,1124.1 829.1,1010.9 830.7,1011.9 609.3,1125.6" fill="#c4c4c4" />
<polygon points="609.3,1125.6 830.7,1011.9 831.7,1013.5 610.9,1127.7" fill="#b9b9b9" />
<polygon points="610.9,1127.7 831.7,1013.5 832.8,1018.1 613.5,1135.0" fill="url(#g47)" />
<polygon points="613.5,1135.0 832.8,1018.1 918.8,1055.2 700.5,1169.4" fill="url(#g48)" />
<polygon points="700.5,1169.4 918.8,1055.2 918.8,1059.8 705.9,1172.1" fill="#fcfcfc" />
<line x1="702.1" y1="1170.2" x2="918.8" y2="1056.6" stroke="#d9d9d9" stroke-width="0.8" />
<polygon points="606.7,1124.1 609.3,1125.6 610.9,1127.7 613.5,1135.0 700.5,1169.4 705.9,1172.1 709.2,1389.0 614.0,1338.3" fill="url(#g49)" />
<polygon points="614.5,1148.3 684.8,1174.6 615.6,1210.3" fill="url(#g50)" />
<polygon points="615.6,1210.3 684.8,1174.6 696.9,1180.6 700.3,1187.3 701.5,1260.0 615.5,1214.2" fill="url(#g51)" />
<polygon points="656.9,1234.1 699.9,1211.0 701.5,1260.0" fill="url(#g52)" />
<line x1="656.9" y1="1234.1" x2="699.9" y2="1211.0" stroke="#f3f3f3" stroke-width="1.0" />
<polygon points="615.6,1210.3 684.8,1174.6 686.8,1176.2 615.9,1213.2" fill="#ececec" />
<line x1="615.6" y1="1210.3" x2="684.8" y2="1174.6" stroke="#6f6f6f" stroke-width="0.5" />
<path d="M612.6,1135.1 L699.5,1169.5 L700.3,1176.5 Q701.6,1188.6 698.4,1195.4 L696.8,1194.0 Q697.6,1180.6 686.1,1174.8 L622.2,1143.2 Q616.1,1142.2 615.3,1155.0 L611.8,1146.9 Z" fill="#f9f9f9" stroke="#dcdcdc" stroke-width="0.4"/>
<polygon points="616.5,1227.6 702.3,1267.1 702.3,1371.4 695.8,1375.0 682.8,1368.3 682.8,1356.4 681.8,1356.4 640.4,1334.7 639.9,1334.2 639.9,1345.2 627.7,1339.1 626.4,1335.7 618.8,1331.1" fill="#666666" />
<polygon points="616.5,1227.6 702.3,1267.1 702.5,1284.3 622.3,1331.1 618.8,1331.1" fill="url(#g54)" clip-path="url(#c53)"/>
<polygon points="621.2,1329.2 702.5,1281.8 702.5,1287.6 627.1,1335.7 622.3,1332.9" fill="url(#g55)" clip-path="url(#c53)"/>
<line x1="623.0" y1="1331.7" x2="702.5" y2="1284.9" stroke="#262626" stroke-width="1.7" clip-path="url(#c53)"/>
<line x1="624.4" y1="1332.9" x2="702.5" y2="1287.0" stroke="#9a9a9a" stroke-width="0.8" clip-path="url(#c53)"/>
<polygon points="627.1,1335.7 702.5,1291.5 702.5,1299.0 639.9,1334.2 639.9,1345.2 627.7,1339.1" fill="url(#g56)" clip-path="url(#c53)"/>
<line x1="627.7" y1="1338.5" x2="702.5" y2="1294.6" stroke="#8f8f8f" stroke-width="0.7" clip-path="url(#c53)"/>
<polygon points="640.4,1334.7 702.5,1299.0 702.5,1344.5 682.8,1356.4 681.8,1356.4" fill="url(#g57)" clip-path="url(#c53)"/>
<line x1="640.4" y1="1334.7" x2="702.5" y2="1299.0" stroke="#a8a8a8" stroke-width="0.8" clip-path="url(#c53)"/>
<polygon points="682.8,1356.4 702.5,1344.3 702.5,1358.2 684.9,1368.5 682.8,1368.3" fill="url(#g58)" clip-path="url(#c53)"/>
<polygon points="684.9,1368.5 702.5,1358.2 702.5,1371.4 695.8,1375.0" fill="url(#g59)" clip-path="url(#c53)"/>
<line x1="682.8" y1="1356.4" x2="702.5" y2="1344.3" stroke="#b4b4b4" stroke-width="0.8" clip-path="url(#c53)"/>
<line x1="684.4" y1="1368.3" x2="702.5" y2="1358.0" stroke="#a9a9a9" stroke-width="0.8" clip-path="url(#c53)"/>
<polygon points="615.5,1214.2 702.3,1260.2 702.3,1266.7 616.3,1222.7" fill="#e4e4e4" />
<polygon points="622.6,1224.8 625.2,1226.3 624.9,1234.1 623.9,1235.1 622.9,1233.3" fill="#e1e1e1" />
<polygon points="629.9,1228.7 632.4,1230.2 632.2,1242.1 631.1,1243.2 630.1,1241.4" fill="#e1e1e1" />
<polygon points="637.1,1232.6 639.7,1234.1 639.4,1245.8 638.4,1246.8 637.4,1245.0" fill="#e1e1e1" />
<polygon points="644.6,1236.4 647.2,1238.0 646.9,1248.6 645.9,1249.6 644.9,1247.8" fill="#e1e1e1" />
<polygon points="668.9,1249.4 671.5,1250.9 671.3,1260.2 670.2,1261.3 669.2,1259.5" fill="#e1e1e1" />
<polygon points="677.2,1253.3 679.8,1254.8 679.5,1265.4 678.5,1266.5 677.5,1264.7" fill="#e1e1e1" />
<polygon points="684.7,1257.1 687.3,1258.7 687.0,1269.3 686.0,1270.3 685.0,1268.5" fill="#e1e1e1" />
<polygon points="692.2,1260.5 694.8,1262.1 694.5,1271.6 693.5,1272.7 692.5,1270.9" fill="#e1e1e1" />
<circle cx="618.0" cy="1221.4" r="2.0" fill="#1f1f1f" />
<circle cx="699.3" cy="1262.3" r="2.0" fill="#1f1f1f" />
<circle cx="621.2" cy="1332.6" r="2.1" fill="#222222" />
<circle cx="700.9" cy="1376.3" r="2.1" fill="#222222" />
<polygon points="644.0,1345.5 647.1,1345.0 648.6,1347.6 651.8,1346.8 652.3,1348.7 647.6,1350.7 644.5,1348.7" fill="#1e1e1e" />
<polygon points="669.1,1364.4 674.5,1361.7 677.4,1363.2 677.1,1366.2 674.7,1365.8 674.0,1364.0 671.4,1365.4" fill="#222222" />
<polygon points="651.8,1347.1 663.4,1353.6 663.4,1354.3 654.4,1359.2 649.5,1356.4 648.6,1350.7" fill="#4a4a4a" />
<line x1="650.3" y1="1352.8" x2="661.0" y2="1350.8" stroke="#b9b9b9" stroke-width="0.6" />
<line x1="651.3" y1="1354.6" x2="661.7" y2="1351.9" stroke="#b9b9b9" stroke-width="0.6" />
<line x1="652.4" y1="1356.3" x2="662.4" y2="1352.9" stroke="#b9b9b9" stroke-width="0.6" />
<line x1="653.4" y1="1358.1" x2="663.1" y2="1353.9" stroke="#b9b9b9" stroke-width="0.6" />
<polygon points="648.6,1355.9 654.4,1359.2 654.4,1360.0 648.6,1357.1" fill="#d2d2d2" />
<polygon points="653.8,1359.8 663.4,1354.5 672.5,1359.2 672.5,1362.3 668.3,1364.6 668.3,1367.5 666.2,1368.3" fill="#ffffff" />
<polygon points="614.0,1338.5 618.8,1331.1 626.4,1335.7 627.7,1339.1 639.9,1345.2 643.0,1344.7 653.8,1359.6" fill="url(#g60)" />
<circle cx="621.2" cy="1332.6" r="2.1" fill="#222222" />
<polygon points="359.4,1368.0 604.1,1229.2 605.2,1347.2 359.4,1497.4" fill="url(#g61)" />
<polygon points="248.1,1312.3 504.0,1182.3 507.0,1183.8 252.7,1314.3" fill="#dadada" />
<polygon points="252.7,1314.3 507.0,1183.8 510.4,1192.7 252.6,1327.9" fill="url(#g62)" />
<polygon points="504.0,1182.3 507.0,1183.8 510.4,1192.7 505.0,1191.3" fill="#c9c9c9" />
<polygon points="252.6,1327.9 510.4,1192.7 602.6,1228.4 354.5,1372.1" fill="url(#g63)" />
<polygon points="354.5,1372.1 602.6,1228.4 604.1,1229.2 359.4,1368.0" fill="#f3f3f3" />
<polygon points="248.1,1312.3 252.7,1314.3 252.6,1327.9 354.5,1372.1 359.4,1368.0 359.4,1497.4 252.0,1441.1" fill="url(#g64)" />
<polygon points="255.4,1330.7 352.7,1375.8 345.4,1377.3 257.7,1423.9" fill="url(#g65)" />
<polygon points="257.7,1423.9 345.4,1377.3 352.7,1375.8 352.7,1424.4 306.6,1449.8 257.4,1425.2" fill="url(#g66)" />
<polygon points="306.6,1449.8 352.7,1424.4 352.7,1473.1" fill="url(#g67)" />
<line x1="257.7" y1="1423.9" x2="345.4" y2="1377.3" stroke="#c9c9c9" stroke-width="0.9" />
<line x1="306.6" y1="1449.8" x2="352.7" y2="1424.4" stroke="#d0d0d0" stroke-width="0.9" />
<polygon points="255.9,1332.0 268.8,1337.7 292.1,1347.9 260.0,1364.4 255.9,1358.9" fill="url(#g68)" />
<polygon points="259.1,1344.7 272.7,1340.8 284.4,1344.7 262.4,1353.8" fill="#474747" />
<polygon points="261.1,1356.3 286.9,1346.0 291.6,1348.3 262.6,1362.8 257.4,1361.8" fill="#2f2f2f" />
<line x1="260.5" y1="1364.6" x2="292.1" y2="1348.6" stroke="#bdbdbd" stroke-width="1.0" />
<polygon points="250.7,1331.8 255.9,1332.0 256.5,1370.6 257.4,1425.2 251.7,1422.3" fill="#e0e0e0" />
<circle cx="257.8" cy="1358.7" r="2.0" fill="#2a2a2a" />
<polygon points="352.7,1375.8 355.3,1377.0 355.0,1390.0 350.3,1391.3 345.2,1397.1 351.6,1404.2 346.5,1412.0 352.7,1418.5 356.2,1422.3 356.2,1370.6" fill="#e0e0e0" />
<circle cx="350.1" cy="1407.5" r="2.0" fill="#3a3a3a" />
<path d="M252.6,1327.6 L354.5,1372.1 L355.0,1387.4 Q352.9,1391.3 349.7,1390.0 L350.3,1379.6 L347.1,1376.8 L257.8,1335.6 Q255.9,1336.9 253.6,1338.5 Z" fill="#f4f4f4" stroke="#cfcfcf" stroke-width="0.5"/>
<polygon points="262.7,1446.7 263.6,1444.8 273.7,1438.1 278.5,1440.8 269.8,1445.1 269.4,1449.8" fill="#ffffff" />
<polygon points="297.3,1465.4 309.6,1459.1 318.6,1463.5 313.3,1468.9 313.2,1472.7" fill="#ffffff" />
<circle cx="259.8" cy="1435.2" r="2.6" fill="#262626" />
<polygon points="259.0,1437.3 263.0,1439.2 265.5,1436.1 269.8,1435.8 263.6,1439.8 261.8,1439.7" fill="#2b2b2b" />
<polygon points="263.3,1440.1 269.8,1436.0 273.7,1438.1 263.6,1444.9" fill="#8f8f8f" />
<polygon points="269.8,1445.5 274.9,1442.3 279.0,1449.2 271.7,1447.1" fill="#363636" />
<circle cx="286.7" cy="1449.9" r="2.7" fill="#262626" />
<polygon points="286.3,1452.9 289.7,1453.5 292.2,1449.8 294.7,1450.4 291.3,1456.0 287.9,1455.0" fill="#2b2b2b" />
<polygon points="292.2,1451.0 309.3,1457.8 297.8,1464.2 295.9,1459.7 291.3,1456.3" fill="url(#g69)" />
<polygon points="314.1,1469.8 321.5,1466.0 325.2,1469.8 324.0,1473.5 320.9,1472.2 320.5,1469.8 317.1,1471.4" fill="#2d2d2d" />
<polygon points="331.6,1474.9 335.2,1472.0 342.0,1474.6 346.9,1480.7 347.6,1484.5 343.4,1486.5 332.0,1479.1" fill="url(#g70)" />
<circle cx="351.3" cy="1485.3" r="2.5" fill="#262626" />
<line x1="148.2" y1="1378.8" x2="1831.9" y2="492.5" stroke="#3d4b52" stroke-width="1.6" stroke-linecap="round"/>
<line x1="245.5" y1="1424.6" x2="1886.4" y2="518.9" stroke="#3d4b52" stroke-width="1.6" stroke-linecap="round"/>
<text x="117.0" y="488.3" font-size="38" textLength="71.6" lengthAdjust="spacingAndGlyphs" fill="#465056" stroke="#465056" stroke-width="0.7">Для</text>
<text x="199.0" y="488.3" font-size="38" textLength="182.1" lengthAdjust="spacingAndGlyphs" fill="#465056" stroke="#465056" stroke-width="0.7">натяжных</text>
<text x="391.6" y="488.3" font-size="38" textLength="167.6" lengthAdjust="spacingAndGlyphs" fill="#465056" stroke="#465056" stroke-width="0.7">потолков</text>
<text x="571.3" y="488.3" font-size="38" textLength="122.4" lengthAdjust="spacingAndGlyphs" fill="#465056" stroke="#465056" stroke-width="0.7">(ткань,</text>
<text x="705.0" y="488.3" font-size="38" textLength="88.1" lengthAdjust="spacingAndGlyphs" fill="#465056" stroke="#465056" stroke-width="0.7">ПВХ)</text>
<text x="118.3" y="672.3" font-size="38" textLength="271.9" lengthAdjust="spacingAndGlyphs" fill="#465056" stroke="#465056" stroke-width="0.7">Встраиваемый</text>
<text x="400.7" y="672.3" font-size="38" textLength="40.4" lengthAdjust="spacingAndGlyphs" fill="#465056" stroke="#465056" stroke-width="0.7">со</text>
<text x="450.4" y="672.3" font-size="38" textLength="165.9" lengthAdjust="spacingAndGlyphs" fill="#465056" stroke="#465056" stroke-width="0.7">скрытым</text>
<text x="625.1" y="672.3" font-size="38" textLength="164.7" lengthAdjust="spacingAndGlyphs" fill="#465056" stroke="#465056" stroke-width="0.7">фланцем</text>
<text x="119.1" y="883.2" font-size="38" textLength="272.4" lengthAdjust="spacingAndGlyphs" fill="#465056" stroke="#465056" stroke-width="0.7">Встраиваемый</text>
<text x="402.7" y="883.2" font-size="38" textLength="19.8" lengthAdjust="spacingAndGlyphs" fill="#465056" stroke="#465056" stroke-width="0.7">с</text>
<text x="431.7" y="883.2" font-size="38" textLength="207.4" lengthAdjust="spacingAndGlyphs" fill="#465056" stroke="#465056" stroke-width="0.7">накладным</text>
<text x="649.1" y="883.2" font-size="38" textLength="165.5" lengthAdjust="spacingAndGlyphs" fill="#465056" stroke="#465056" stroke-width="0.7">фланцем</text>
<text x="122.0" y="1101.3" font-size="38" textLength="412.3" lengthAdjust="spacingAndGlyphs" fill="#465056" stroke="#465056" stroke-width="0.7">Накладной/подвесной</text>
<line x1="119.0" y1="513.0" x2="1678.0" y2="513.0" stroke="#465056" stroke-width="1.6" />
<circle cx="1678.0" cy="513.0" r="6.2" fill="#465056" />
<line x1="119.0" y1="699.3" x2="1349.0" y2="699.3" stroke="#465056" stroke-width="1.6" />
<circle cx="1349.0" cy="699.3" r="6.2" fill="#465056" />
<line x1="119.0" y1="905.7" x2="928.0" y2="905.7" stroke="#465056" stroke-width="1.6" />
<circle cx="928.0" cy="905.7" r="6.2" fill="#465056" />
<line x1="119.0" y1="1124.5" x2="555.0" y2="1124.5" stroke="#465056" stroke-width="1.6" />
<circle cx="555.0" cy="1124.5" r="6.2" fill="#465056" />
<text x="1055.6" y="836.9" font-size="35" textLength="35.0" lengthAdjust="spacingAndGlyphs" fill="#465056" stroke="#465056" stroke-width="0.45">33</text>
<text x="1099.8" y="836.9" font-size="33" textLength="52.4" lengthAdjust="spacingAndGlyphs" fill="#465056" stroke="#465056" stroke-width="0.25">мм</text>
<line x1="1124.2" y1="867.4" x2="1192.5" y2="900.0" stroke="#465056" stroke-width="1.2" />
<polygon points="1124.2,867.4 1133.8,875.1 1136.2,870.0" fill="#465056" />
<polygon points="1192.5,900.0 1182.9,892.3 1180.5,897.4" fill="#465056" />
<circle cx="382.9" cy="1555.1" r="19.6" fill="#dcdcdc" stroke="#6d6d6d" stroke-width="0.9"/>
<text x="416.5" y="1566.8" font-size="38" textLength="127.9" lengthAdjust="spacingAndGlyphs" fill="#465056" stroke="#465056" stroke-width="0.7">019306</text>
<text x="556.2" y="1566.8" font-size="38" textLength="83.7" lengthAdjust="spacingAndGlyphs" fill="#465056" stroke="#465056" stroke-width="0.7">(2м);</text>
<text x="648.0" y="1566.8" font-size="38" textLength="128.4" lengthAdjust="spacingAndGlyphs" fill="#465056" stroke="#465056" stroke-width="0.7">036196</text>
<text x="786.3" y="1566.8" font-size="38" textLength="72.6" lengthAdjust="spacingAndGlyphs" fill="#465056" stroke="#465056" stroke-width="0.7">(3м)</text>
<circle cx="382.9" cy="1612.9" r="19.6" fill="#000000" stroke="#000000" stroke-width="0.9"/>
<text x="416.5" y="1625.0" font-size="38" textLength="127.9" lengthAdjust="spacingAndGlyphs" fill="#465056" stroke="#465056" stroke-width="0.7">036253</text>
<circle cx="732.2" cy="1439.6" r="19.6" fill="#dcdcdc" stroke="#6d6d6d" stroke-width="0.9"/>
<text x="765.8" y="1450.3" font-size="38" textLength="128.0" lengthAdjust="spacingAndGlyphs" fill="#465056" stroke="#465056" stroke-width="0.7">019299</text>
<text x="904.2" y="1450.3" font-size="38" textLength="85.1" lengthAdjust="spacingAndGlyphs" fill="#465056" stroke="#465056" stroke-width="0.7">(2м);</text>
<text x="997.4" y="1450.3" font-size="38" textLength="127.9" lengthAdjust="spacingAndGlyphs" fill="#465056" stroke="#465056" stroke-width="0.7">036197</text>
<text x="1135.7" y="1450.3" font-size="38" textLength="72.5" lengthAdjust="spacingAndGlyphs" fill="#465056" stroke="#465056" stroke-width="0.7">(3м)</text>
<circle cx="1032.6" cy="1150.0" r="19.6" fill="#dcdcdc" stroke="#6d6d6d" stroke-width="0.9"/>
<text x="1066.5" y="1162.4" font-size="38" textLength="127.8" lengthAdjust="spacingAndGlyphs" fill="#465056" stroke="#465056" stroke-width="0.7">019313</text>
<circle cx="1032.6" cy="1208.5" r="19.6" fill="#000000" stroke="#000000" stroke-width="0.9"/>
<text x="1066.5" y="1220.9" font-size="38" textLength="127.8" lengthAdjust="spacingAndGlyphs" fill="#465056" stroke="#465056" stroke-width="0.7">036513</text>
<circle cx="1294.0" cy="1000.4" r="19.6" fill="#dcdcdc" stroke="#6d6d6d" stroke-width="0.9"/>
<text x="1327.9" y="1012.8" font-size="38" textLength="127.9" lengthAdjust="spacingAndGlyphs" fill="#465056" stroke="#465056" stroke-width="0.7">049950</text>
<circle cx="1519.7" cy="854.4" r="19.6" fill="#dcdcdc" stroke="#6d6d6d" stroke-width="0.9"/>
<text x="1553.1" y="866.3" font-size="38" textLength="127.7" lengthAdjust="spacingAndGlyphs" fill="#465056" stroke="#465056" stroke-width="0.7">027159</text>
<circle cx="1769.7" cy="738.5" r="19.6" fill="#000000" stroke="#000000" stroke-width="0.9"/>
<text x="1802.0" y="751.0" font-size="38" textLength="128.8" lengthAdjust="spacingAndGlyphs" fill="#465056" stroke="#465056" stroke-width="0.7">055208</text>
<circle cx="1769.7" cy="796.5" r="19.6" fill="#ffffff" stroke="#555555" stroke-width="0.9"/>
<text x="1802.0" y="808.9" font-size="38" textLength="128.8" lengthAdjust="spacingAndGlyphs" fill="#465056" stroke="#465056" stroke-width="0.7">053526</text>
</svg>
</body></html>
